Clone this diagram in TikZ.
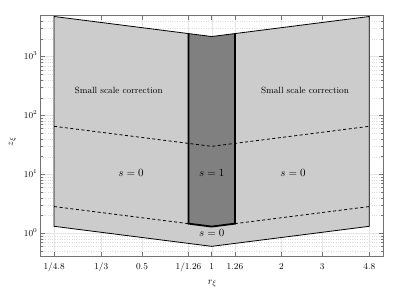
\documentclass[tikz,border=0pt]{standalone}
\begin{document}
\begin{tikzpicture}[x=1pt,y=1pt,
  axisbox/.style={draw=black!55,line width=0.6pt},
  majgrid/.style={draw=black!10,line width=0.4pt},
  mingrid/.style={draw=black!14,line width=0.4pt,dotted},
  tickmark/.style={draw=black!55,line width=0.5pt},
  lightfill/.style={fill=black!20},
  darkfill/.style={fill=black!50},
  border/.style={draw=black,line width=0.8pt,line join=miter},
  thickedge/.style={draw=black,line width=1.8pt,line join=miter},
  dashedge/.style={draw=black,line width=0.8pt,dash pattern=on 3pt off 2.5pt},
  ticklabel/.style={font=\fontsize{9}{10}\selectfont,inner sep=0pt},
  regionlabel/.style={font=\fontsize{9}{10}\selectfont,inner sep=0pt},
  slabel/.style={font=\fontsize{11}{12}\selectfont,inner sep=0pt},
  axlabel/.style={font=\fontsize{10}{12}\selectfont,inner sep=0pt}]
\useasboundingbox (0,0) rectangle (415,298);
\begin{scope}[shift={(211.7pt,64.7pt)},x=100.5pt,y=58.87pt]
  \def\uL{-1.7047}\def\uR{1.7047}\def\LB{-0.3979}\def\LT{3.699}
  % minor horizontal grid + ticks
  \foreach \d in {-1,0,1,2,3}{
    \foreach \m in {2,...,9}{
      \pgfmathsetmacro{\L}{\d+log10(\m)}
      \pgfmathparse{(\L>\LB+0.005)&&(\L<\LT-0.005)?1:0}
      \ifnum\pgfmathresult=1
        \draw[mingrid] (\uL,\L) -- (\uR,\L);
        \draw[tickmark] (\uL,\L) -- ++(2.5pt,0);
        \draw[tickmark] (\uR,\L) -- ++(-2.5pt,0);
      \fi
    }
  }
  % major horizontal grid + ticks
  \foreach \L in {0,1,2,3}{
    \draw[majgrid] (\uL,\L) -- (\uR,\L);
    \draw[tickmark] (\uL,\L) -- ++(4.5pt,0);
    \draw[tickmark] (\uR,\L) -- ++(-4.5pt,0);
  }
  % vertical grid + ticks
  \foreach \u in {-1.5686,-1.0986,-0.6931,-0.2311,0,0.2311,0.6931,1.0986,1.5686}{
    \draw[majgrid] (\u,\LB) -- (\u,\LT);
    \draw[tickmark] (\u,\LB) -- ++(0,4.5pt);
    \draw[tickmark] (\u,\LT) -- ++(0,-4.5pt);
  }
  % regions
  \fill[lightfill] (-1.5686,3.683) -- (0,3.3424) -- (1.5686,3.683) -- (1.5686,0.1188) -- (0,-0.2218) -- (-1.5686,0.1188) -- cycle;
  \fill[darkfill] (-0.2311,3.3926) -- (0,3.3424) -- (0.2311,3.3926) -- (0.2311,0.1641) -- (0,0.1139) -- (-0.2311,0.1641) -- cycle;
  \draw[border] (-1.5686,3.683) -- (0,3.3424) -- (1.5686,3.683) -- (1.5686,0.1188) -- (0,-0.2218) -- (-1.5686,0.1188) -- cycle;
  \draw[dashedge] (-1.5686,1.8177) -- (0,1.4771) -- (1.5686,1.8177);
  \draw[dashedge] (-1.5686,0.4545) -- (-0.2311,0.1641);
  \draw[dashedge] (0.2311,0.1641) -- (1.5686,0.4545);
  \draw[thickedge] (-0.2311,3.3926) -- (-0.2311,0.1641) -- (0,0.1139) -- (0.2311,0.1641) -- (0.2311,3.3926);
  % axis box
  \draw[axisbox] (\uL,\LB) rectangle (\uR,\LT);
\end{scope}
% y tick labels
\node[ticklabel,anchor=base east] (y0) at (37.5,61.8) {$10^0$};
\node[ticklabel,anchor=base east] (y1) at (37.5,120.6) {$10^1$};
\node[ticklabel,anchor=base east] (y2) at (37.5,179.5) {$10^2$};
\node[ticklabel,anchor=base east] (y3) at (37.5,238.4) {$10^3$};
% x tick labels
\node[ticklabel,anchor=base] (x1) at (54.1,28.4) {1/4.8};
\node[ticklabel,anchor=base] (x2) at (101.3,28.4) {1/3};
\node[ticklabel,anchor=base] (x3) at (142.0,28.4) {0.5};
\node[ticklabel,anchor=base] (x4) at (188.5,28.4) {1/1.26};
\node[ticklabel,anchor=base] (x5) at (211.7,28.4) {1};
\node[ticklabel,anchor=base] (x6) at (234.9,28.4) {1.26};
\node[ticklabel,anchor=base] (x7) at (281.4,28.4) {2};
\node[ticklabel,anchor=base] (x8) at (322.1,28.4) {3};
\node[ticklabel,anchor=base] (x9) at (369.3,28.4) {4.8};
% axis labels
\node[axlabel] (xl) at (212.3,14.7) {$r_\xi$};
\node[axlabel,rotate=90] (yl) at (12.4,156.3) {$z_\xi$};
% region labels
\node[regionlabel] (sscL) at (118.7,208) {Small scale correction};
\node[regionlabel] (sscR) at (305,208) {Small scale correction};
\node[slabel] (s0L) at (131,124.7) {$s=0$};
\node[slabel] (s1) at (211.7,125.5) {$s=1$};
\node[slabel] (s0R) at (293,125.3) {$s=0$};
\node[slabel] (s0B) at (211.7,64.7) {$s=0$};
\end{tikzpicture}
\end{document}
